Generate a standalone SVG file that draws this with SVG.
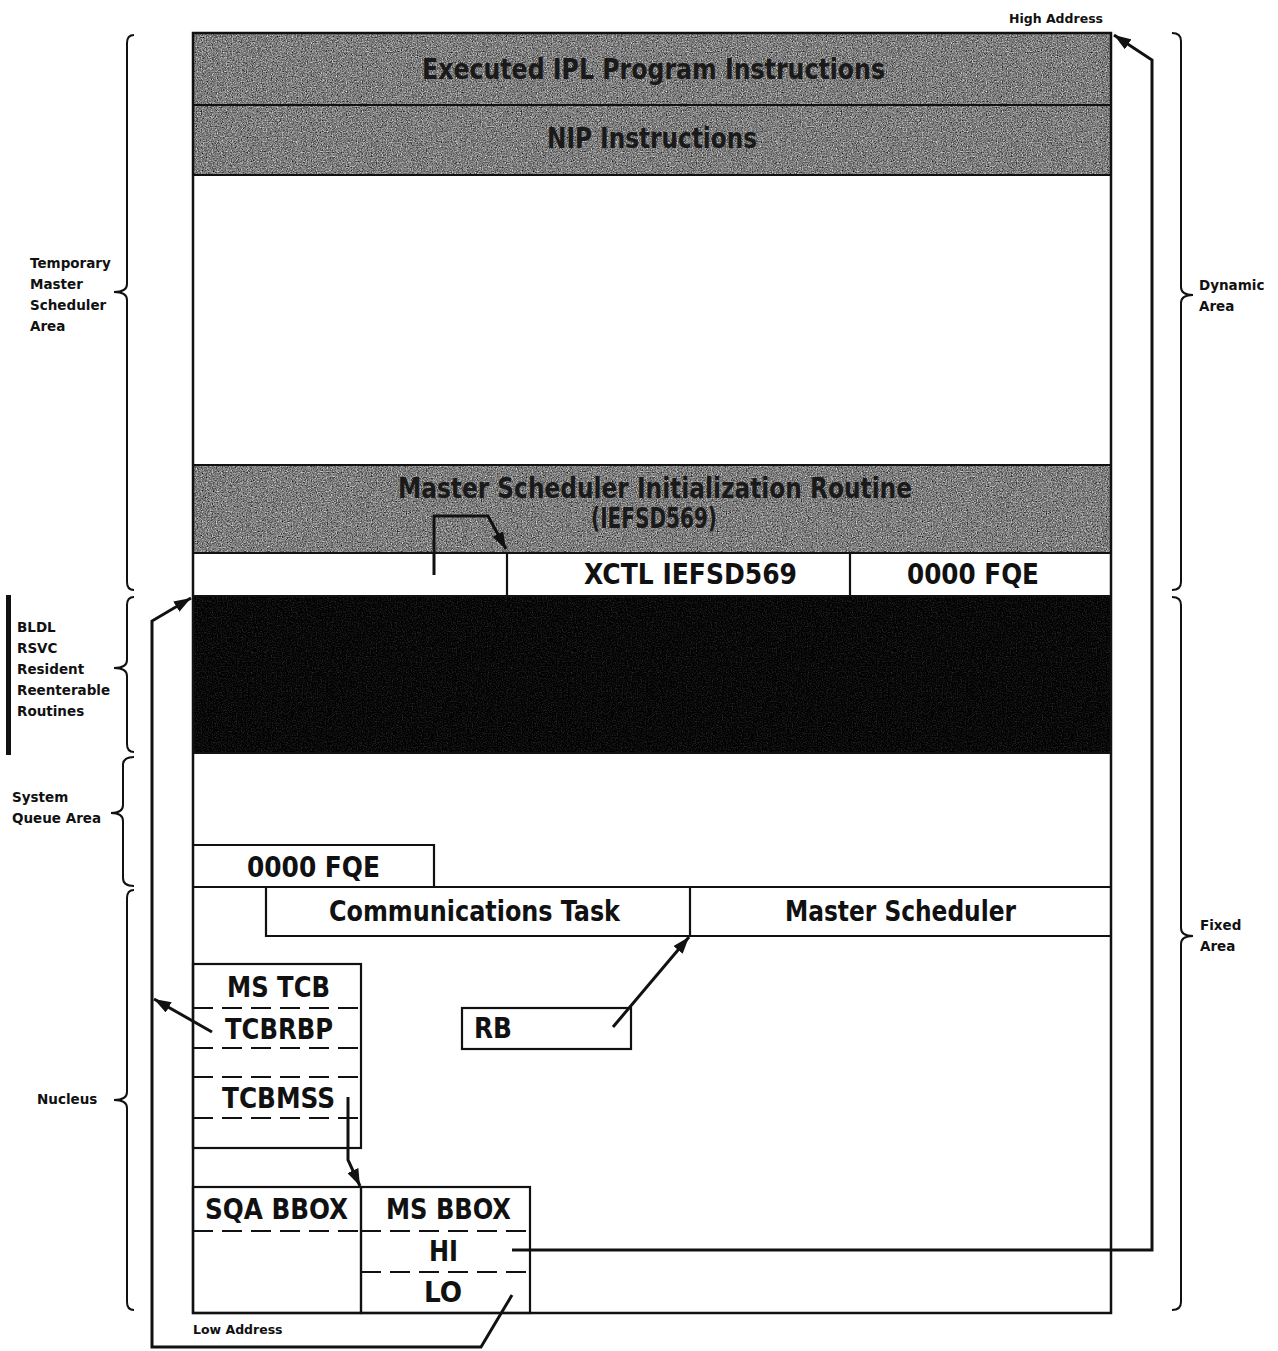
<svg xmlns="http://www.w3.org/2000/svg" width="1278" height="1351" viewBox="0 0 1278 1351">
<style>
.frame{fill:none;stroke:#111;stroke-width:2.5}
.ln{stroke:#111;stroke-width:2.2;fill:none}
.dash{stroke:#111;stroke-width:2.2;stroke-dasharray:20 9;fill:none}
.conn{stroke:#111;stroke-width:3;fill:none;stroke-linejoin:miter}
.brace{stroke:#111;stroke-width:2;fill:none}
.lbl{font-family:"Liberation Sans Narrow","DejaVu Sans Condensed","Liberation Sans",sans-serif;font-weight:bold;font-size:28px;fill:#111}
.gt{fill:#1a1a1a}
.side{font-family:"DejaVu Sans","Liberation Sans",sans-serif;font-weight:bold;font-size:13.5px;fill:#111}
.small{font-family:"DejaVu Sans","Liberation Sans",sans-serif;font-weight:bold;font-size:12.5px;fill:#111}
</style>
<defs>
<marker id="ah" markerUnits="userSpaceOnUse" markerWidth="18" markerHeight="12" refX="17" refY="6" orient="auto">
<path d="M0,0 L17,6 L0,12 Z" fill="#111"/>
</marker>
<filter id="grainGray" x="0" y="0" width="1" height="1" color-interpolation-filters="sRGB">
<feTurbulence type="fractalNoise" baseFrequency="0.8" numOctaves="2" seed="7" result="noise"/>
<feColorMatrix in="noise" type="matrix" values="0.33 0.33 0.33 0 0 0.33 0.33 0.33 0 0 0.33 0.33 0.33 0 0 0 0 0 0 1" result="g"/>
<feComponentTransfer in="g" result="c">
<feFuncR type="linear" slope="1.8" intercept="-0.4"/>
<feFuncG type="linear" slope="1.8" intercept="-0.4"/>
<feFuncB type="linear" slope="1.8" intercept="-0.4"/>
</feComponentTransfer>
<feComposite in="c" in2="SourceGraphic" operator="in"/>
</filter>
<filter id="grainBlack" x="0" y="0" width="1" height="1" color-interpolation-filters="sRGB">
<feTurbulence type="fractalNoise" baseFrequency="0.8" numOctaves="2" seed="11" result="noise"/>
<feColorMatrix in="noise" type="matrix" values="0.33 0.33 0.33 0 0 0.33 0.33 0.33 0 0 0.33 0.33 0.33 0 0 0 0 0 0 1" result="g"/>
<feComponentTransfer in="g" result="c">
<feFuncR type="linear" slope="0.6" intercept="-0.26"/>
<feFuncG type="linear" slope="0.6" intercept="-0.26"/>
<feFuncB type="linear" slope="0.6" intercept="-0.26"/>
</feComponentTransfer>
<feComposite in="c" in2="SourceGraphic" operator="in"/>
</filter>
</defs>
<rect x="0" y="0" width="1278" height="1351" fill="#fff"/>

<g id="ipl-band">
<rect x="193" y="33" width="918" height="72" fill="#888" filter="url(#grainGray)"/>
<text class="lbl gt" x="422" y="79" textLength="463" lengthAdjust="spacingAndGlyphs">Executed IPL Program Instructions</text>
</g>
<g id="nip-band">
<rect x="193" y="105" width="918" height="70" fill="#888" filter="url(#grainGray)"/>
<text class="lbl gt" x="547" y="148" textLength="210" lengthAdjust="spacingAndGlyphs">NIP Instructions</text>
</g>
<g id="msir-band">
<rect x="193" y="465" width="918" height="88" fill="#888" filter="url(#grainGray)"/>
<text class="lbl gt" x="398" y="498" font-size="24" textLength="514" lengthAdjust="spacingAndGlyphs">Master Scheduler Initialization Routine</text>
<text class="lbl gt" x="591" y="528" font-size="24" textLength="126" lengthAdjust="spacingAndGlyphs">(IEFSD569)</text>
</g>
<g id="resident-band">
<rect x="193" y="596" width="918" height="157" fill="#111" filter="url(#grainBlack)"/>
</g>

<g id="memory-frame">
<rect class="frame" x="193" y="33" width="918" height="1280"/>
<line class="ln" x1="193" y1="105" x2="1111" y2="105"/>
<line class="ln" x1="193" y1="175" x2="1111" y2="175"/>
<line class="ln" x1="193" y1="465" x2="1111" y2="465"/>
<line class="ln" x1="193" y1="553" x2="1111" y2="553"/>
<line class="ln" x1="193" y1="596" x2="1111" y2="596"/>
<line class="ln" x1="193" y1="753" x2="1111" y2="753"/>
<line class="ln" x1="193" y1="887" x2="1111" y2="887"/>
</g>

<g id="xctl-row">
<line class="ln" x1="507" y1="553" x2="507" y2="596"/>
<line class="ln" x1="850" y1="553" x2="850" y2="596"/>
<text class="lbl" x="584" y="584" textLength="213" lengthAdjust="spacingAndGlyphs">XCTL IEFSD569</text>
<text class="lbl" x="907" y="584" textLength="132" lengthAdjust="spacingAndGlyphs">0000 FQE</text>
</g>

<g id="sqa-fqe">
<polyline class="ln" points="193,845 434,845 434,887"/>
<text class="lbl" x="247" y="877" textLength="133" lengthAdjust="spacingAndGlyphs">0000 FQE</text>
</g>

<g id="communications-task">
<polyline class="ln" points="266,887 266,936 690,936"/>
<text class="lbl" x="329" y="921" textLength="291" lengthAdjust="spacingAndGlyphs">Communications Task</text>
</g>
<g id="master-scheduler">
<line class="ln" x1="690" y1="887" x2="690" y2="936"/>
<line class="ln" x1="690" y1="936" x2="1111" y2="936"/>
<text class="lbl" x="785" y="921" textLength="231" lengthAdjust="spacingAndGlyphs">Master Scheduler</text>
</g>

<g id="ms-tcb">
<rect class="ln" x="193" y="964" width="168" height="184"/>
<line class="dash" x1="193" y1="1008" x2="361" y2="1008"/>
<line class="dash" x1="193" y1="1048" x2="361" y2="1048"/>
<line class="dash" x1="193" y1="1077" x2="361" y2="1077"/>
<line class="dash" x1="193" y1="1118" x2="361" y2="1118"/>
<text class="lbl" x="227" y="997" textLength="103" lengthAdjust="spacingAndGlyphs">MS TCB</text>
<text class="lbl" x="225" y="1039" textLength="108" lengthAdjust="spacingAndGlyphs">TCBRBP</text>
<text class="lbl" x="222" y="1108" textLength="113" lengthAdjust="spacingAndGlyphs">TCBMSS</text>
</g>

<g id="rb">
<rect class="ln" x="462" y="1008" width="169" height="41"/>
<text class="lbl" x="474" y="1038" textLength="38" lengthAdjust="spacingAndGlyphs">RB</text>
</g>

<g id="sqa-bbox">
<rect class="ln" x="193" y="1187" width="168" height="126"/>
<line class="dash" x1="193" y1="1231" x2="361" y2="1231"/>
<text class="lbl" x="205" y="1219" textLength="143" lengthAdjust="spacingAndGlyphs">SQA BBOX</text>
</g>
<g id="ms-bbox">
<rect class="ln" x="361" y="1187" width="169" height="126"/>
<line class="dash" x1="361" y1="1231" x2="530" y2="1231"/>
<line class="dash" x1="361" y1="1272" x2="530" y2="1272"/>
<text class="lbl" x="386" y="1219" textLength="125" lengthAdjust="spacingAndGlyphs">MS BBOX</text>
<text class="lbl" x="429" y="1261" textLength="29" lengthAdjust="spacingAndGlyphs">HI</text>
<text class="lbl" x="424" y="1302" textLength="38" lengthAdjust="spacingAndGlyphs">LO</text>
</g>

<g id="connectors">
<path class="conn" d="M512,1250 H1152 V60 L1114,35" marker-end="url(#ah)"/>
<path class="conn" d="M512,1295 L481,1347 H152 V621 L191,598" marker-end="url(#ah)"/>
<path class="conn" d="M212,1032 L154,999" marker-end="url(#ah)"/>
<path class="conn" d="M348,1097 V1160 L360,1186" marker-end="url(#ah)"/>
<path class="conn" d="M613,1027 L689,937" marker-end="url(#ah)"/>
<path class="conn" d="M434,575 V516 H488 L506,549" marker-end="url(#ah)"/>
</g>

<g id="left-braces">
<path class="brace" d="M134,35 Q127,35 127,43 V284 Q127,292 114,292 Q127,292 127,300 V582 Q127,590 134,590"/>
<path class="brace" d="M134,597 Q127,597 127,605 V660 Q127,668 114,668 Q127,668 127,676 V744 Q127,752 134,752"/>
<path class="brace" d="M134,757 Q123,757 123,765 V805 Q123,813 111,813 Q123,813 123,821 V878 Q123,886 134,886"/>
<path class="brace" d="M134,890 Q127,890 127,898 V1092 Q127,1100 114,1100 Q127,1100 127,1108 V1302 Q127,1310 134,1310"/>
</g>
<g id="right-braces">
<path class="brace" d="M1172,33 Q1181,33 1181,41 V287 Q1181,295 1193,295 Q1181,295 1181,303 V582 Q1181,590 1172,590"/>
<path class="brace" d="M1172,597 Q1181,597 1181,605 V928 Q1181,936 1193,936 Q1181,936 1181,944 V1302 Q1181,1310 1172,1310"/>
</g>

<g id="labels">
<text class="small" x="1009" y="23">High Address</text>
<text class="small" x="193" y="1334">Low Address</text>
<text class="side" x="30" y="268">Temporary</text>
<text class="side" x="30" y="289">Master</text>
<text class="side" x="30" y="310">Scheduler</text>
<text class="side" x="30" y="331">Area</text>
<rect x="6" y="595" width="5" height="160" fill="#111"/>
<text class="side" x="17" y="632">BLDL</text>
<text class="side" x="17" y="653">RSVC</text>
<text class="side" x="17" y="674">Resident</text>
<text class="side" x="17" y="695">Reenterable</text>
<text class="side" x="17" y="716">Routines</text>
<text class="side" x="12" y="802">System</text>
<text class="side" x="12" y="823">Queue Area</text>
<text class="side" x="37" y="1104">Nucleus</text>
<text class="side" x="1199" y="290">Dynamic</text>
<text class="side" x="1199" y="311">Area</text>
<text class="side" x="1200" y="930">Fixed</text>
<text class="side" x="1200" y="951">Area</text>
</g>
</svg>
